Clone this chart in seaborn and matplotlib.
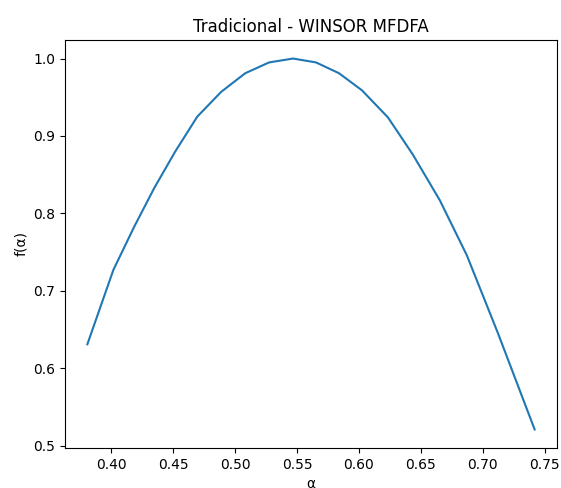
import matplotlib
matplotlib.use("Agg")
import matplotlib.pyplot as plt
import seaborn as sns
import pandas as pd

alpha = [0.3806, 0.4016, 0.4185, 0.4347, 0.4516, 0.4694, 0.4887, 0.5081, 0.5274,
         0.5468, 0.5653, 0.5839, 0.6024, 0.6234, 0.6435, 0.6653, 0.6871, 0.7121, 0.7419]
f_alpha = [0.631, 0.727, 0.783, 0.833, 0.880, 0.925, 0.957, 0.981, 0.995,
           1.000, 0.995, 0.981, 0.959, 0.924, 0.876, 0.817, 0.746, 0.646, 0.521]

df = pd.DataFrame({"alpha": alpha, "f": f_alpha})

fig = plt.figure(figsize=(5.61, 4.88), dpi=100)
ax = fig.add_axes([65 / 561, 1 - 448 / 488, 492 / 561, 408 / 488])
sns.lineplot(data=df, x="alpha", y="f", ax=ax, color="#1f77b4", linewidth=1.5,
             sort=False, estimator=None)
ax.set_title("Tradicional - WINSOR MFDFA", fontsize=12)
ax.set_xlabel("α")
ax.set_ylabel("f(α)")
ax.set_xticks([0.40, 0.45, 0.50, 0.55, 0.60, 0.65, 0.70, 0.75])
ax.set_yticks([0.5, 0.6, 0.7, 0.8, 0.9, 1.0])
fig.savefig("out.png", dpi=100)
